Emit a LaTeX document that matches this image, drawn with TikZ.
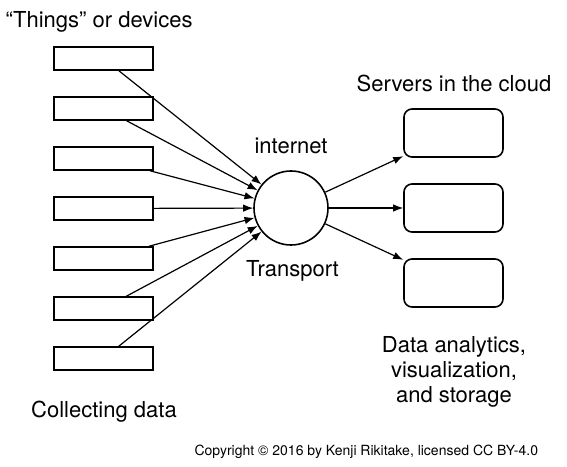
\documentclass[tikz,border=0pt]{standalone}
\usepackage{fontspec}
\setmainfont{TeX Gyre Heros}
\usetikzlibrary{arrows.meta,positioning}

\begin{document}
\begin{tikzpicture}[x=1pt,y=1pt,>={Latex[length=10pt,width=7.5pt]},line width=1.2pt,node distance=50pt,
    device/.style={draw,line width=1.6pt,rectangle,minimum width=99pt,minimum height=23pt,inner sep=0pt},
    server/.style={draw,line width=1.6pt,rectangle,rounded corners=8pt,minimum width=99pt,minimum height=48pt,inner sep=0pt},
    hub/.style={draw,line width=1.6pt,circle,minimum size=74pt,inner sep=0pt},
    txt/.style={font=\fontsize{22}{25}\selectfont,inner sep=0pt}]
                \useasboundingbox (0,0) rectangle (567,466);

                \node[device] (1) at (103.5,407.5) {};
                \node[device] (2) [below of=1] {};
                \node[device] (3) [below of=2] {};
                \node[device] (4) [below of=3] {};
                \node[device] (5) [below of=4] {};
                \node[device] (6) [below of=5] {};
                \node[device] (7) [below of=6] {};

                \node[hub] (net) at (291,258) {};

                \node[server] (a) at (453.5,333) {};
                \node[server] (b) [below of=a,node distance=75pt] {};
                \node[server] (c) [below of=b,node distance=75pt] {};

                \node[txt,anchor=base west] (things) at (5,438) {“Things” or devices};
                \node[txt,anchor=base] (inet) at (291,312) {internet};
                \node[txt,anchor=base] (trans) at (292.5,189) {Transport};
                \node[txt,anchor=base] (cloud) at (454,374) {Servers in the cloud};
                \node[txt,align=center] (analytics) at (454,94) {Data analytics,\\visualization,\\and storage};
                \node[txt,anchor=base] (collect) at (104,49) {Collecting data};
                \node[font=\fontsize{14}{16}\selectfont,inner sep=0pt,anchor=base west] (copy) at (194,11)
                    {Copyright © 2016 by Kenji Rikitake, licensed CC BY-4.0};

                \path[->]
                    (1) edge (net)
                    (2) edge (net)
                    (3) edge (net)
                    (4) edge (net)
                    (5) edge (net)
                    (6) edge (net)
                    (7) edge (net)
                    (net) edge (a)
                    (net) edge (b)
                    (net) edge (c)
                    ;
            \end{tikzpicture}
\end{document}
